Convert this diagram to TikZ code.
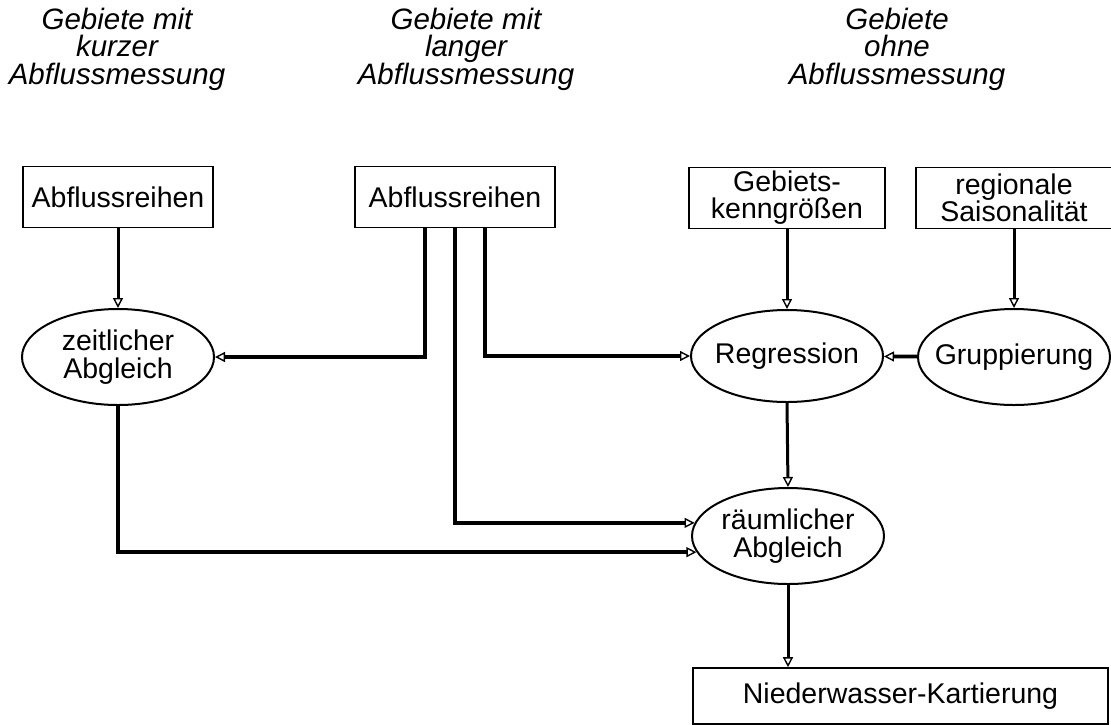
\documentclass[tikz,border=0pt]{standalone}
\usepackage{fontspec}
\setmainfont{Liberation Sans}
\usetikzlibrary{arrows.meta,shapes.geometric}

\tikzset{
  kasten/.style={draw, line width=1.6pt, inner sep=0pt, minimum height=61pt,
    align=center, font=\fontsize{28.5}{27}\selectfont},
  oval/.style={draw, ellipse, line width=2pt, inner xsep=-16pt, inner ysep=0pt,
    minimum width=192pt, minimum height=96pt, align=center,
    font=\fontsize{28.5}{28}\selectfont},
  kopf/.style={align=center, font=\fontsize{29.5}{27.5}\selectfont\itshape},
  pfeil/.style={-{Triangle[open,length=10pt,width=10pt,line width=1.4pt]},
    line width=3.8pt},
}

\begin{document}
\begin{tikzpicture}[x=1pt,y=-1pt]
    \useasboundingbox (0,0) rectangle (1111,724);

    % column headings
    \node[kopf] (KopfKurz) at (117,49) {Gebiete mit\\kurzer\\Abflussmessung};
    \node[kopf] (KopfLang) at (466,49) {Gebiete mit\\langer\\Abflussmessung};
    \node[kopf] (KopfOhne) at (897,49) {Gebiete\\ohne\\Abflussmessung};

    % input boxes
    \node[kasten, minimum width=190pt] (KurzReihe) at (118,197) {Abflussreihen};
    \node[kasten, minimum width=200pt] (LangReihe) at (455,197) {Abflussreihen};
    \node[kasten, minimum width=196pt] (GebietsKG) at (787,198) {Gebiets-\\kenngrößen};
    \node[kasten, minimum width=196pt] (RegSaison) at (1014,198) {regionale\\Saisonalität};

    % methods
    \node[oval] (ZeitAbgl) at (118,357) {zeitlicher\\Abgleich};
    \node[oval, minimum height=92pt] (Regress) at (787,356) {Regression};
    \node[oval] (Gruppier) at (1014,357) {Gruppierung};
    \node[oval] (RaumAbgl) at (788,536) {räumlicher\\Abgleich};

    % result
    \node[kasten, minimum width=415pt, minimum height=56pt] (NWKarte) at (900.5,696)
        {Niederwasser-Kartierung};

    % connectors
    \draw[pfeil, line width=3pt] (KurzReihe.south) -- (ZeitAbgl.north);
    \draw[pfeil] ([xshift=-30pt]LangReihe.south) |- (ZeitAbgl);
    \draw[pfeil] ([xshift=30pt]LangReihe.south) |- (Regress);
    \draw[pfeil] (LangReihe.south) |- (RaumAbgl.172);
    \draw[pfeil] (ZeitAbgl.south) |- (RaumAbgl.190);
    \draw[pfeil, line width=3pt] (GebietsKG.south) -- (Regress.north);
    \draw[pfeil, line width=3pt] (RegSaison.south) -- (Gruppier.north);
    \draw[pfeil] (Gruppier) -- (Regress);
    \draw[pfeil, line width=3pt] (Regress.south) -- (RaumAbgl.north);
    \draw[pfeil, line width=3pt] (RaumAbgl.south) -- (RaumAbgl.south |- NWKarte.north);
\end{tikzpicture}
\end{document}
